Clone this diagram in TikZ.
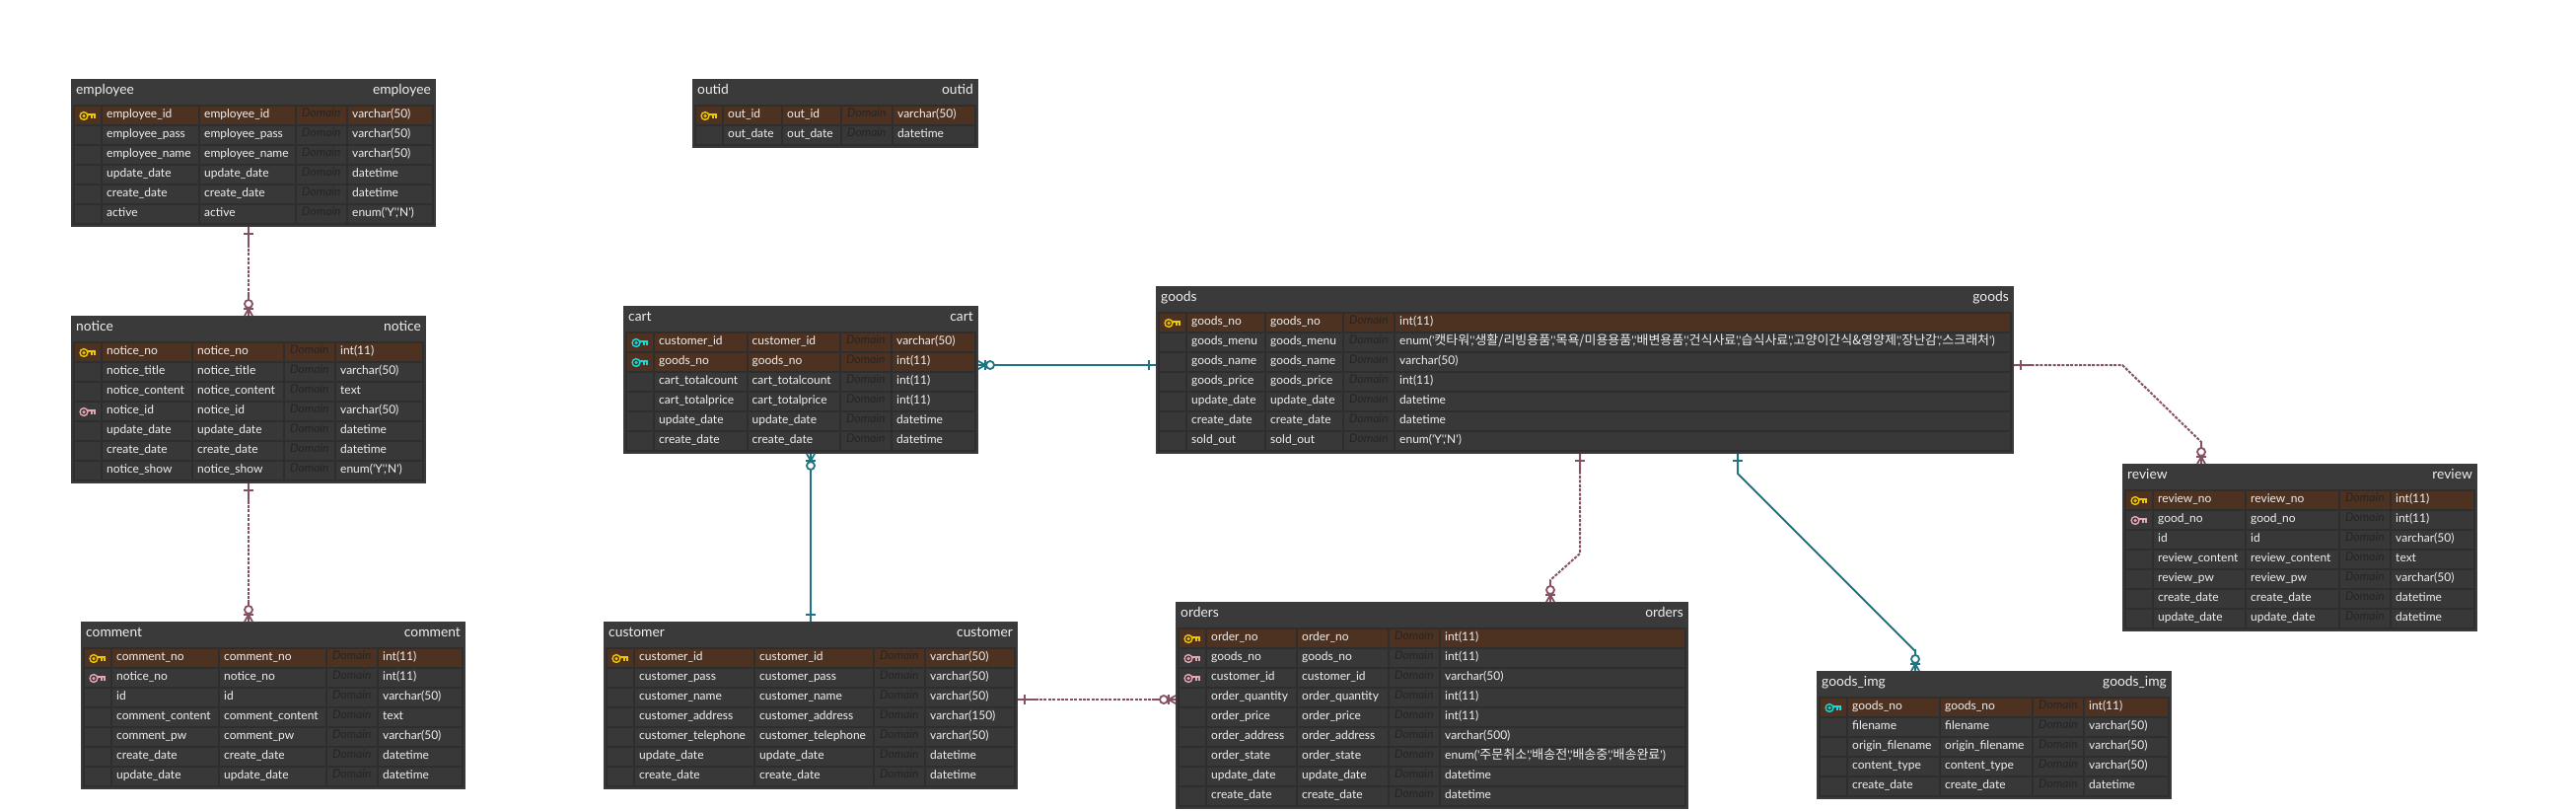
\documentclass[tikz,border=0pt]{standalone}
\usepackage{fontspec}
\newfontfamily\erfont{Lato}
\newfontfamily\krfont{Noto Sans CJK KR}
\definecolor{tablebg}{HTML}{3A3A3A}
\definecolor{bandbg}{HTML}{2E2E2E}
\definecolor{cellgray}{HTML}{383838}
\definecolor{pkrow}{HTML}{4D3222}
\definecolor{txt}{HTML}{F0F0F0}
\definecolor{domtxt}{HTML}{252525}
\definecolor{keyyellow}{HTML}{F0C800}
\definecolor{keypink}{HTML}{E8A6B4}
\definecolor{keycyan}{HTML}{10DCDC}
\definecolor{relmaroon}{HTML}{85505F}
\definecolor{relteal}{HTML}{1F7484}
\def\keycolp{keyyellow}\def\keycolf{keypink}\def\keycolc{keycyan}
\def\rowcolp{pkrow}\def\rowcolf{cellgray}\def\rowcolc{pkrow}\def\rowcoln{cellgray}
\def\nokey{n}
\def\ynenum{enum('Y','N')}
\def\ko#1{{\krfont\fontsize{13}{15}\selectfont #1}}
\def\goodsmenu{enum('\ko{캣타워}','\ko{생활/리빙용품}','\ko{목욕/미용용품}','\ko{배변용품}','\ko{건식사료}','\ko{습식사료}','\ko{고양이간식\&영양제}','\ko{장난감}','\ko{스크래처}')}
\def\statemenu{enum('\ko{주문취소}','\ko{배송전}','\ko{배송중}','\ko{배송완료}')}
\tikzset{
  x=1pt,y=-1pt,
  tablebox/.style={fill=tablebg,draw=none,inner sep=0pt,outer sep=0pt,anchor=north west},
  titletext/.style={text=txt,inner sep=0pt,font=\erfont\fontsize{13.8}{16}\selectfont},
  celltext/.style={text=txt,inner sep=0pt,anchor=base west,font=\erfont\fontsize{12}{15}\selectfont},
  domaintext/.style={text=domtxt,inner sep=0pt,anchor=base west,font=\erfont\itshape\fontsize{12}{15}\selectfont},
  nonid/.style={color=relmaroon,line width=2pt,dash pattern=on 3pt off 1.4pt},
  identifying/.style={color=relteal,line width=2pt},
  rm/.style={color=relmaroon},
  rt/.style={color=relteal},
  keyicon/.pic={
    \draw[line width=1.4pt] (0,0) circle (3.9);
    \draw[line width=1.2pt] (0,0) circle (0.9);
    \draw[line width=1.7pt] (3.9,-1.4) -- (11.3,-1.4) -- (11.3,2.2) (7.8,-1.4) -- (7.8,2.8);
  },
  onetip/.pic={
    \draw[line width=2pt] (0,0) -- (20,0);
    \draw[line width=2pt] (7,-5) -- (7,5);
  },
  manytip/.pic={
    \draw[line width=2pt] (0,0) -- (22,0);
    \draw[line width=1.8pt] (0,-4) -- (7,0) -- (0,4);
    \draw[line width=2pt] (7,-5) -- (7,5);
    \draw[line width=1.8pt,fill=white] (12,0) circle (4);
  },
}
% name, x0, y0, x1, name width, logical width, title, rows (key/name/type)
\newcommand{\ertable}[8]{%
  \pgfmathsetmacro\cellAl{#2+32}
  \pgfmathsetmacro\cellAr{#2+32+#5}
  \pgfmathsetmacro\cellBl{#2+34+#5}
  \pgfmathsetmacro\cellBr{#2+34+#5+#6}
  \pgfmathsetmacro\cellCl{#2+36+#5+#6}
  \pgfmathsetmacro\cellCr{#2+86+#5+#6}
  \pgfmathsetmacro\cellDl{#2+88+#5+#6}
  \pgfmathsetmacro\cellDr{#4-4}
  \foreach \kk/\nn/\tt [count=\ii from 0] in {#8} {\xdef\rowcount{\the\numexpr\ii+1\relax}}
  \pgfmathsetmacro\tw{#4-#2}
  \pgfmathsetmacro\th{30+20*\rowcount}
  \node[tablebox,minimum width=\tw pt,minimum height=\th pt] (#1) at (#2,#3) {};
  \fill[bandbg] (#2+2,#3+26) rectangle (#4-2,#3+\th-2);
  \node[titletext,anchor=base west] (#1-tl) at (#2+5,#3+15.5) {#7};
  \node[titletext,anchor=base east] (#1-tr) at (#4-5,#3+15.5) {#7};
  \foreach \kk/\nn/\tt [count=\ii from 0] in {#8} {
    \pgfmathsetmacro\rt{#3+28+20*\ii}
    \pgfmathsetmacro\rb{#3+46+20*\ii}
    \fill[\csname rowcol\kk\endcsname] (#2+4,\rt) rectangle (#2+30,\rb);
    \fill[\csname rowcol\kk\endcsname] (\cellAl,\rt) rectangle (\cellAr,\rb);
    \fill[\csname rowcol\kk\endcsname] (\cellBl,\rt) rectangle (\cellBr,\rb);
    \fill[\csname rowcol\kk\endcsname] (\cellCl,\rt) rectangle (\cellCr,\rb);
    \fill[\csname rowcol\kk\endcsname] (\cellDl,\rt) rectangle (\cellDr,\rb);
    \ifx\kk\nokey\else
      \pic[color=\csname keycol\kk\endcsname] at (#2+13,\rt+9.5) {keyicon};
    \fi
    \node[celltext] (#1-\ii-a) at (\cellAl+4,\rt+11.6) {\nn};
    \node[celltext] (#1-\ii-b) at (\cellBl+4,\rt+11.6) {\nn};
    \node[domaintext] (#1-\ii-c) at (\cellCl+5,\rt+10.8) {Domain};
    \node[celltext] (#1-\ii-d) at (\cellDl+4,\rt+11.6) {\tt};
  }
}
\begin{document}
\begin{tikzpicture}
\useasboundingbox (0,0) rectangle (2612,822);
\fill[white] (0,0) rectangle (2612,822);

\ertable{employee}{72}{80}{442}{97}{96}{employee}{
  p/employee\_id/varchar(50), n/employee\_pass/varchar(50), n/employee\_name/varchar(50),
  n/update\_date/datetime, n/create\_date/datetime, n/active/\ynenum}
\ertable{outid}{702}{80}{992}{58}{58}{outid}{
  p/out\_id/varchar(50), n/out\_date/datetime}
\ertable{notice}{72}{320}{432}{90}{91}{notice}{
  p/notice\_no/int(11), n/notice\_title/varchar(50), n/notice\_content/text, f/notice\_id/varchar(50),
  n/update\_date/datetime, n/create\_date/datetime, n/notice\_show/\ynenum}
\ertable{comment}{82}{630}{472}{107}{107}{comment}{
  p/comment\_no/int(11), f/notice\_no/int(11), n/id/varchar(50), n/comment\_content/text,
  n/comment\_pw/varchar(50), n/create\_date/datetime, n/update\_date/datetime}
\ertable{cart}{632}{310}{992}{92.5}{92.5}{cart}{
  c/customer\_id/varchar(50), c/goods\_no/int(11), n/cart\_totalcount/int(11), n/cart\_totalprice/int(11),
  n/update\_date/datetime, n/create\_date/datetime}
\ertable{customer}{612}{630}{1032}{120}{119}{customer}{
  p/customer\_id/varchar(50), n/customer\_pass/varchar(50), n/customer\_name/varchar(50),
  n/customer\_address/varchar(150), n/customer\_telephone/varchar(50), n/update\_date/datetime, n/create\_date/datetime}
\ertable{goods}{1172}{290}{2042}{78}{77}{goods}{
  p/goods\_no/int(11), n/goods\_menu/\goodsmenu, n/goods\_name/varchar(50), n/goods\_price/int(11),
  n/update\_date/datetime, n/create\_date/datetime, n/sold\_out/\ynenum}
\ertable{orders}{1192}{610}{1712}{90}{91}{orders}{
  p/order\_no/int(11), f/goods\_no/int(11), f/customer\_id/varchar(50), n/order\_quantity/int(11),
  n/order\_price/int(11), n/order\_address/varchar(500), n/order\_state/\statemenu,
  n/update\_date/datetime, n/create\_date/datetime}
\ertable{review}{2152}{470}{2512}{92}{93}{review}{
  p/review\_no/int(11), f/good\_no/int(11), n/id/varchar(50), n/review\_content/text,
  n/review\_pw/varchar(50), n/create\_date/datetime, n/update\_date/datetime}
\ertable{goodsimg}{1842}{680}{2202}{92}{92}{goods\_img}{
  c/goods\_no/int(11), n/filename/varchar(50), n/origin\_filename/varchar(50),
  n/content\_type/varchar(50), n/create\_date/datetime}

% employee - notice
\draw[nonid] ([xshift=-5pt]employee.south) -- (notice.north);
\pic[rm,rotate=-90] at ([xshift=-5pt]employee.south) {onetip};
\pic[rm,rotate=90] at (notice.north) {manytip};
% notice - comment
\draw[nonid] (notice.south) -- ([xshift=-25pt]comment.north);
\pic[rm,rotate=-90] at (notice.south) {onetip};
\pic[rm,rotate=90] at ([xshift=-25pt]comment.north) {manytip};
% cart - customer
\draw[identifying] ([xshift=10pt]cart.south) -- (customer.north);
\pic[rt,rotate=-90] at ([xshift=10pt]cart.south) {manytip};
\pic[rt,rotate=90] at (customer.north) {onetip};
% cart - goods
\draw[identifying] ([yshift=15pt]cart.east) -- ([yshift=5pt]goods.west);
\pic[rt] at ([yshift=15pt]cart.east) {manytip};
\pic[rt,rotate=180] at ([yshift=5pt]goods.west) {onetip};
% customer - orders
\draw[nonid] ([yshift=6pt]customer.east) -- ([yshift=6pt]orders.west);
\pic[rm] at ([yshift=6pt]customer.east) {onetip};
\pic[rm,rotate=180] at ([yshift=6pt]orders.west) {manytip};
% goods - orders
\coordinate (bendOrdersA) at (1602,561);
\coordinate (bendOrdersB) at (1572,588);
\draw[nonid] ([xshift=-5pt]goods.south) -- (bendOrdersA) -- (bendOrdersB) -- ([xshift=120pt]orders.north);
\pic[rm,rotate=-90] at ([xshift=-5pt]goods.south) {onetip};
\pic[rm,rotate=90] at ([xshift=120pt]orders.north) {manytip};
% goods - goods_img
\coordinate (bendImgA) at (1762,480);
\coordinate (bendImgB) at (1942,660);
\draw[identifying] ([xshift=155pt]goods.south) -- (bendImgA) -- (bendImgB) -- ([xshift=-80pt]goodsimg.north);
\pic[rt,rotate=-90] at ([xshift=155pt]goods.south) {onetip};
\pic[rt,rotate=90] at ([xshift=-80pt]goodsimg.north) {manytip};
% goods - review
\coordinate (bendRevA) at (2152,370);
\coordinate (bendRevB) at (2232,448);
\draw[nonid] ([yshift=5pt]goods.east) -- (bendRevA) -- (bendRevB) -- ([xshift=-100pt]review.north);
\pic[rm] at ([yshift=5pt]goods.east) {onetip};
\pic[rm,rotate=90] at ([xshift=-100pt]review.north) {manytip};
\end{tikzpicture}
\end{document}
